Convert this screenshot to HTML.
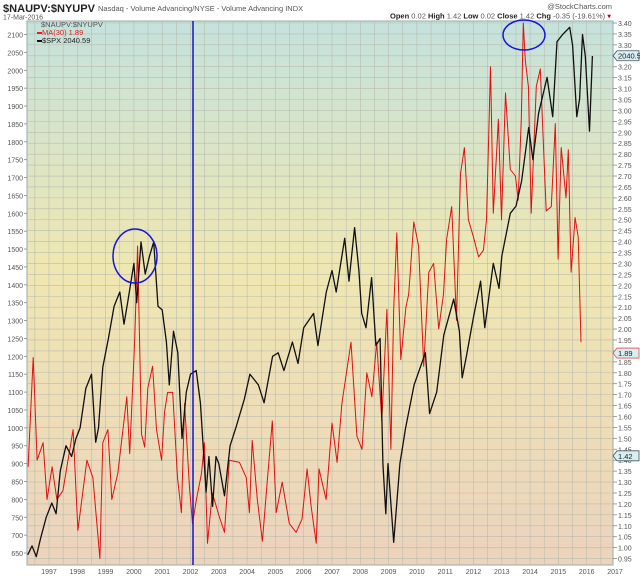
<!DOCTYPE html>
<html><head><meta charset="utf-8"><style>
html,body{margin:0;padding:0;background:#fff;}
body{width:640px;height:576px;overflow:hidden;font-family:"Liberation Sans",sans-serif;}
svg text{font-family:"Liberation Sans",sans-serif;}
</style></head><body>
<svg id="chart" width="640" height="576" viewBox="0 0 640 576" xmlns="http://www.w3.org/2000/svg">
<defs>
<linearGradient id="bg" x1="0" y1="0" x2="0" y2="1">
<stop offset="0" stop-color="#c4e2dd"/>
<stop offset="0.45" stop-color="#efe7b2"/>
<stop offset="1" stop-color="#ecd3bd"/>
</linearGradient>
</defs>
<text x="3" y="12" font-size="11" font-weight="bold" fill="#222" textLength="92" lengthAdjust="spacingAndGlyphs">$NAUPV:$NYUPV</text>
<text x="98" y="11" font-size="7.5" fill="#555">Nasdaq - Volume Advancing/NYSE - Volume Advancing INDX</text>
<text x="3" y="19.5" font-size="7" fill="#555">17-Mar-2016</text>
<text x="612" y="9" font-size="7.5" fill="#555" text-anchor="end">@StockCharts.com</text>
<text x="611" y="18.5" font-size="7.5" fill="#555" text-anchor="end"><tspan font-weight="bold" fill="#222">Open</tspan> 0.02 <tspan font-weight="bold" fill="#222">High</tspan> 1.42 <tspan font-weight="bold" fill="#222">Low</tspan> 0.02 <tspan font-weight="bold" fill="#222">Close</tspan> 1.42 <tspan font-weight="bold" fill="#222">Chg</tspan> -0.35 (-19.61%) <tspan fill="#c00">▾</tspan></text>
<rect x="27" y="21" width="586" height="544" fill="url(#bg)" stroke="#9aa" stroke-width="1"/>
<g id="grid"></g>
<g id="axes"></g>
<g id="series"></g>
<g id="overlay"></g>
</svg>
<script>
// ---- data ----
var spxDates=[1996.25,1996.4,1996.55,1996.7,1996.9,1997.1,1997.25,1997.4,1997.6,1997.8,1997.95,1998.1,1998.3,1998.5,1998.65,1998.75,1998.9,1999.1,1999.3,1999.5,1999.65,1999.8,2000.0,2000.1,2000.25,2000.4,2000.55,2000.7,2000.85,2001.0,2001.15,2001.25,2001.4,2001.55,2001.7,2001.85,2002.0,2002.2,2002.35,2002.55,2002.65,2002.78,2002.9,2003.0,2003.2,2003.4,2003.6,2003.9,2004.1,2004.4,2004.6,2004.9,2005.1,2005.3,2005.6,2005.8,2006.0,2006.35,2006.5,2006.8,2007.0,2007.15,2007.45,2007.6,2007.8,2007.95,2008.05,2008.2,2008.4,2008.55,2008.7,2008.8,2008.9,2008.98,2009.18,2009.4,2009.6,2009.9,2010.3,2010.45,2010.7,2010.95,2011.3,2011.5,2011.6,2011.75,2012.0,2012.25,2012.4,2012.7,2012.9,2013.0,2013.3,2013.5,2013.7,2013.95,2014.1,2014.3,2014.6,2014.8,2014.95,2015.15,2015.4,2015.5,2015.65,2015.75,2015.85,2015.95,2016.1,2016.2];
var spxValues=[645,670,640,690,750,790,760,880,950,920,970,1000,1110,1150,960,1000,1170,1250,1340,1380,1290,1360,1460,1350,1520,1430,1480,1520,1340,1330,1240,1120,1270,1210,970,1100,1150,1160,1070,820,920,780,920,900,810,950,1000,1080,1150,1120,1070,1200,1210,1160,1240,1180,1280,1320,1230,1380,1440,1380,1530,1410,1560,1440,1320,1280,1420,1230,1250,900,760,900,680,900,1000,1120,1210,1040,1100,1260,1360,1270,1140,1200,1310,1410,1280,1460,1390,1480,1600,1620,1690,1840,1750,1880,1980,1870,2080,2100,2120,2070,1870,1920,2100,2040,1830,2040];
var ratioDates=[1996.26,1996.44,1996.58,1996.79,1996.93,1997.11,1997.28,1997.49,1997.85,1998.02,1998.34,1998.55,1998.8,1998.9,1999.08,1999.22,1999.43,1999.75,1999.85,2000.03,2000.13,2000.27,2000.38,2000.49,2000.66,2000.8,2000.98,2001.08,2001.19,2001.37,2001.54,2001.68,2001.79,2001.96,2002.07,2002.21,2002.39,2002.49,2002.6,2002.77,2003.02,2003.2,2003.37,2003.73,2003.97,2004.08,2004.18,2004.36,2004.54,2004.71,2004.89,2005.03,2005.24,2005.49,2005.73,2005.94,2006.12,2006.26,2006.44,2006.54,2006.79,2007.0,2007.18,2007.35,2007.67,2007.88,2008.06,2008.23,2008.41,2008.58,2008.76,2008.94,2009.08,2009.18,2009.29,2009.43,2009.61,2009.71,2009.89,2010.06,2010.24,2010.42,2010.59,2010.77,2010.94,2011.05,2011.23,2011.4,2011.54,2011.68,2011.82,2012.0,2012.18,2012.35,2012.46,2012.6,2012.7,2012.88,2012.99,2013.13,2013.3,2013.48,2013.58,2013.69,2013.76,2013.83,2013.94,2014.04,2014.22,2014.36,2014.46,2014.57,2014.75,2014.89,2014.99,2015.1,2015.27,2015.35,2015.45,2015.59,2015.7,2015.8];
var ratioValues=[1.37,1.87,1.40,1.48,1.22,1.37,1.22,1.26,1.54,1.08,1.40,1.32,0.95,1.48,1.54,1.22,1.34,1.69,1.43,1.95,2.38,1.52,1.46,1.73,1.83,1.54,1.40,1.62,1.71,1.71,1.32,1.16,1.66,1.28,1.11,1.22,1.34,1.48,1.02,1.25,1.14,1.07,1.40,1.39,1.32,1.16,1.49,1.22,1.03,1.30,1.58,1.16,1.30,1.11,1.07,1.13,1.36,1.19,1.02,1.36,1.22,1.57,1.39,1.66,1.94,1.51,1.45,1.80,1.69,1.94,1.58,2.09,1.45,2.09,2.44,1.86,2.10,2.16,2.49,2.38,1.83,2.26,2.30,2.00,2.16,2.41,2.56,2.04,2.71,2.83,2.50,2.42,2.33,2.36,2.50,3.20,2.53,2.96,2.50,3.08,2.73,2.70,2.59,2.96,3.40,3.23,3.11,2.53,3.11,3.19,2.88,2.54,2.56,2.94,2.32,2.83,2.60,2.82,2.26,2.51,2.42,1.94];
var yearLabels=[1997,1998,1999,2000,2001,2002,2003,2004,2005,2006,2007,2008,2009,2010,2011,2012,2013,2014,2015,2016,2017];
var leftTicks=[650,700,750,800,850,900,950,1000,1050,1100,1150,1200,1250,1300,1350,1400,1450,1500,1550,1600,1650,1700,1750,1800,1850,1900,1950,2000,2050,2100];
var rightTicks=[];for(var k=0;k<=49;k++){rightTicks.push(Math.round((0.95+k*0.05)*100)/100);}
// ---- axes ----
function xS(t){return 49+(t-1997)*28.3;}
function yL(v){return 34.5+(2100-v)*0.3576;}
function yR(v){return 23+(3.40-v)*218.6;}
var NS='http://www.w3.org/2000/svg';
function mk(tag,attrs,parent){var e=document.createElementNS(NS,tag);for(var a in attrs){e.setAttribute(a,attrs[a]);}parent.appendChild(e);return e;}
var grid=document.getElementById('grid'),axes=document.getElementById('axes'),series=document.getElementById('series'),ov=document.getElementById('overlay');
rightTicks.forEach(function(v){
  var y=yR(v);
  var l=mk('line',{x1:27,x2:613,y1:y,y2:y,stroke:'#b9bcae','stroke-width':0.6},grid);
  
  
  var tk=mk('line',{x1:613,x2:617,y1:y,y2:y,stroke:'#888','stroke-width':0.8},axes);
  
  
  var t=mk('text',{x:618,y:y+3,'font-size':7,fill:'#555'},axes);
  t.textContent=v.toFixed(2);
  
  
});
for(var h=1996.5;h<=2016.6;h+=0.5){
  var gx=xS(h);
  var vl=mk('line',{x1:gx,x2:gx,y1:21,y2:565,stroke:'#b9bcae','stroke-width':0.6},grid);
  
  
}
leftTicks.forEach(function(v){
  var y=yL(v);
  var tk=mk('line',{x1:24,x2:27,y1:y,y2:y,stroke:'#888','stroke-width':0.8},axes);
  
  
  var t=mk('text',{x:23,y:y+3,'font-size':7,fill:'#555','text-anchor':'end'},axes);
  t.textContent=v;
  
  
});
yearLabels.forEach(function(yr){
  var t=mk('text',{x:xS(yr),y:574,'font-size':7,fill:'#555','text-anchor':'middle'},axes);
  t.textContent=yr;
  
  
});
// ---- series ----
var rp=ratioDates.map(function(d,i){return xS(d).toFixed(1)+','+yR(ratioValues[i]).toFixed(1);}).join(' ');
var rl=mk('polyline',{points:rp,fill:'none',stroke:'#e01010','stroke-width':1,'stroke-linejoin':'round'},series);


var sp=spxDates.map(function(d,i){return xS(d).toFixed(1)+','+yL(spxValues[i]).toFixed(1);}).join(' ');
var sl=mk('polyline',{points:sp,fill:'none',stroke:'#111','stroke-width':1.3,'stroke-linejoin':'round'},series);


// ---- overlay ----
var bl=mk('line',{x1:193,x2:193,y1:21,y2:565,stroke:'#1515d0','stroke-width':1.5},ov);


var c1=mk('ellipse',{cx:135,cy:256,rx:22,ry:27,fill:'none',stroke:'#1515e0','stroke-width':1.5},ov);


var c2=mk('ellipse',{cx:524,cy:35,rx:21,ry:15,fill:'none',stroke:'#1515e0','stroke-width':1.5},ov);


function tag(y,txt,stroke,name){
  var g=mk('g',{},ov);
  
  
  mk('path',{d:'M613,'+y+' l4,-5 h22 v10 h-22 z',fill:'#d8eef0',stroke:stroke,'stroke-width':0.8},g);
  var t=mk('text',{x:618,y:y+3,'font-size':7.5,fill:'#222'},g);t.textContent=txt;
}
tag(yL(2040.59),'2040.59','#456','spx-value-tag');
tag(yR(1.89),'1.89','#e05050','ma-value-tag');
tag(yR(1.42),'1.42','#456','close-value-tag');
</script>
<div style="position:absolute;left:37px;top:21px;font-size:7.5px;line-height:8px;font-family:'Liberation Sans',sans-serif;">
<div style="color:#555;padding-left:4px;">$NAUPV:$NYUPV</div>
<div style="color:#e02020;"><span style="display:inline-block;width:5px;height:2px;background:#e02020;vertical-align:middle;"></span>MA(30) 1.89</div>
<div style="color:#222;"><span style="display:inline-block;width:5px;height:2px;background:#111;vertical-align:middle;"></span>$SPX 2040.59</div>
</div>
</body></html>
